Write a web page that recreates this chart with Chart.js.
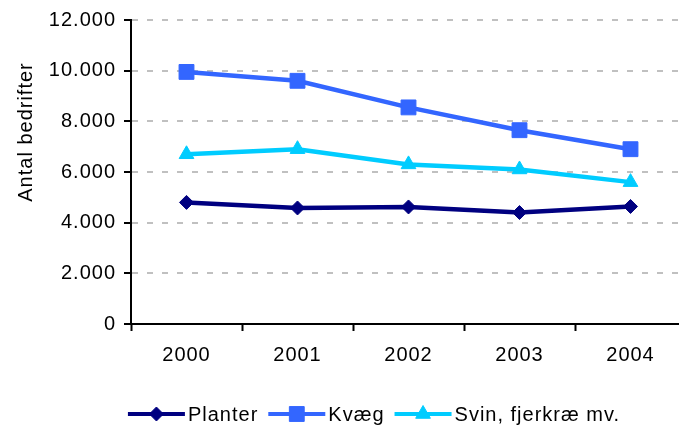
<!DOCTYPE html>
<html>
<head>
<meta charset="utf-8">
<script src="https://cdn.jsdelivr.net/npm/chart.js@4/dist/chart.umd.min.js"></script>
<style>
html, body { margin: 0; padding: 0; background: #fff; overflow: hidden; width: 679px; height: 428px; }
#wrap { position: relative; width: 700px; height: 428px; }
canvas { display: block; }
</style>
</head>
<body>
<div id="wrap"><canvas id="c" width="700" height="428"></canvas></div>
<script>
const years = ['2000', '2001', '2002', '2003', '2004'];
const planter = [4800, 4580, 4620, 4400, 4640];
const kvaeg = [9950, 9600, 8550, 7650, 6900];
const svin = [6700, 6900, 6300, 6100, 5600];
const seriesNames = ['Planter', 'Kvæg', 'Svin, fjerkræ mv.'];
const yTitle = 'Antal bedrifter';
const yTickValues = [0, 2000, 4000, 6000, 8000, 10000, 12000];

const FONT = '"Liberation Sans", Arial, sans-serif';
const FS = 20;
const LS = '1px';

function fmt(v) {
  return String(v).replace(/\B(?=(\d{3})+(?!\d))/g, '.');
}

function drawMarker(ctx, style, r, x, y, color) {
  ctx.save();
  ctx.fillStyle = color;
  ctx.strokeStyle = color;
  ctx.lineWidth = 1;
  ctx.beginPath();
  if (style === 'rect') {
    const s = Math.SQRT1_2 * r;
    ctx.rect(x - s, y - s, 2 * s, 2 * s);
  } else if (style === 'rectRot') {
    ctx.moveTo(x, y - r); ctx.lineTo(x + r, y); ctx.lineTo(x, y + r); ctx.lineTo(x - r, y); ctx.closePath();
  } else if (style === 'triangle') {
    const h = r * Math.sin(Math.PI / 3);
    ctx.moveTo(x, y - r); ctx.lineTo(x + h, y + r / 2); ctx.lineTo(x - h, y + r / 2); ctx.closePath();
  }
  ctx.fill();
  ctx.stroke();
  ctx.restore();
}

const extras = {
  id: 'extras',
  beforeLayout(chart) { if ('letterSpacing' in chart.ctx) chart.ctx.letterSpacing = LS; },
  beforeDraw(chart) { if ('letterSpacing' in chart.ctx) chart.ctx.letterSpacing = LS; },
  afterDraw(chart) {
    const ctx = chart.ctx;
    // y axis title
    ctx.save();
    ctx.font = FS + 'px ' + FONT;
    ctx.fillStyle = '#000';
    ctx.textAlign = 'center';
    ctx.textBaseline = 'alphabetic';
    ctx.translate(32, 132);
    ctx.rotate(-Math.PI / 2);
    ctx.fillText(yTitle, 0, 0);
    ctx.restore();

    // legend
    ctx.save();
    ctx.font = FS + 'px ' + FONT;
    ctx.textBaseline = 'middle';
    ctx.textAlign = 'left';
    const lineLen = 57, textGap = 3, itemGap = 10;
    const items = chart.data.datasets.map(ds => ({ ds, w: ctx.measureText(ds.label).width }));
    const total = items.reduce((s, it) => s + lineLen + textGap + it.w, 0) + itemGap * (items.length - 1);
    let x = 374 - total / 2;
    const y = 414;
    items.forEach(({ ds, w }) => {
      ctx.strokeStyle = ds.borderColor;
      ctx.lineWidth = 4;
      ctx.beginPath();
      ctx.moveTo(x, y); ctx.lineTo(x + lineLen, y);
      ctx.stroke();
      drawMarker(ctx, ds.pointStyle, ds.pointRadius, x + lineLen / 2, y, ds.borderColor);
      ctx.fillStyle = '#000';
      ctx.fillText(ds.label, x + lineLen + textGap, y + 1);
      x += lineLen + textGap + w + itemGap;
    });
    ctx.restore();
  }
};

const colors = ['#000080', '#3366FF', '#00CCFF'];
const styles = ['rectRot', 'rect', 'triangle'];
const radii = [7, 10.5, 8.5];
const values = [planter, kvaeg, svin];

new Chart(document.getElementById('c'), {
  type: 'line',
  data: {
    labels: years,
    datasets: values.map((v, i) => ({
      label: seriesNames[i],
      data: v,
      borderColor: colors[i],
      backgroundColor: colors[i],
      pointBackgroundColor: colors[i],
      pointBorderColor: colors[i],
      borderWidth: 4.5,
      pointStyle: styles[i],
      pointRadius: radii[i],
      pointBorderWidth: 1,
      tension: 0,
      fill: false
    }))
  },
  options: {
    responsive: false,
    animation: false,
    events: [],
    layout: { padding: { left: 0, right: 14, top: 18, bottom: 0 } },
    plugins: { legend: { display: false }, tooltip: { enabled: false } },
    scales: {
      x: {
        offset: true,
        grid: {
          offset: true,
          drawOnChartArea: false,
          drawTicks: true,
          tickLength: 7,
          tickColor: '#000',
          tickWidth: 2
        },
        border: { display: true, color: '#000', width: 2 },
        ticks: { color: '#000', font: { family: FONT, size: FS }, padding: 12, maxRotation: 0 },
        afterFit(scale) { scale.height = 104; }
      },
      y: {
        min: 0,
        max: 12000,
        afterBuildTicks(scale) { scale.ticks = yTickValues.map(v => ({ value: v })); },
        grid: {
          color: c => (c.tick && c.tick.value === 0) ? 'rgba(0,0,0,0)' : '#c0c0c0',
          lineWidth: 2,
          tickLength: 7,
          tickColor: '#000',
          tickWidth: 2,
          tickBorderDash: []
        },
        border: { display: true, color: '#000', width: 2, dash: [6, 9] },
        ticks: {
          color: '#000',
          font: { family: FONT, size: FS },
          padding: 8,
          callback: v => fmt(v)
        },
        afterFit(scale) { scale.width = 131; }
      }
    }
  },
  plugins: [extras]
});
</script>
</body>
</html>
